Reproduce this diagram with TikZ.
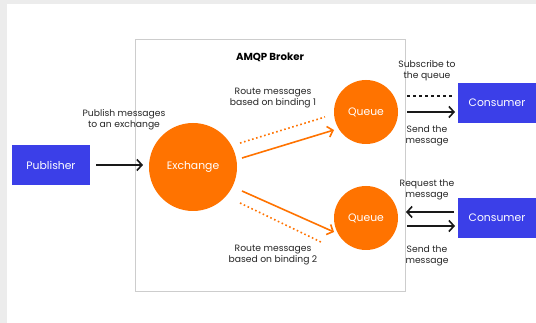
\documentclass[tikz,border=0pt]{standalone}
\usepackage{fontspec}
\setmainfont{Poppins}
\usetikzlibrary{arrows.meta}
\definecolor{amqpblue}{RGB}{59,63,232}
\definecolor{amqporange}{RGB}{255,115,0}
\definecolor{framegrey}{RGB}{205,205,205}
\definecolor{bggrey}{RGB}{236,236,236}
\begin{document}
\begin{tikzpicture}[x=1pt,y=-1pt,
  bluebox/.style={fill=amqpblue,draw=none,minimum width=78pt,minimum height=40pt,inner sep=0pt,text=white,font=\fontsize{10.8}{12}\selectfont},
  orangecirc/.style={circle,fill=amqporange,draw=none,inner sep=0pt,text=white,font=\fontsize{10.8}{12}\selectfont},
  lbl/.style={align=center,inner sep=0pt,font=\fontsize{9.2}{11}\selectfont,text=black!85},
  blackarrow/.style={draw=black!90,line width=1.6pt,-{Straight Barb[length=5pt,width=11pt,line width=1.6pt]}},
  orangearrow/.style={draw=amqporange,line width=1.6pt,-{Straight Barb[length=5pt,width=11pt,line width=1.6pt]}},
  orangedots/.style={draw=amqporange,line width=1.6pt,dash pattern=on 1.6pt off 2.6pt},
  blackdash/.style={draw=black!90,line width=2pt,dash pattern=on 3pt off 3pt}
]
\useasboundingbox (0,0) rectangle (536,323);
\fill[bggrey] (0,0) rectangle (536,323);
\fill[white] (7,4) rectangle (536,323);
% broker frame
\draw[framegrey,line width=0.8pt] (135,39) rectangle (405,291);
\node[font=\fontsize{10.2}{11}\selectfont\bfseries] (title) at (270,57) {AMQP Broker};
% nodes
\node[bluebox] (pub) at (51,165) {Publisher};
\node[orangecirc,minimum size=88pt] (ex) at (193,167) {Exchange};
\node[orangecirc,minimum size=64pt] (q1) at (366,112) {Queue};
\node[orangecirc,minimum size=64pt] (q2) at (366,218) {Queue};
\node[bluebox] (c1) at (497,103) {Consumer};
\node[bluebox] (c2) at (497,218) {Consumer};
% helper coordinates
\coordinate (pa) at (96,165);
\coordinate (pb) at (143,165);
\coordinate (r1a) at (242,158);
\coordinate (r1b) at (334,130);
\coordinate (d1a) at (240,143);
\coordinate (d1b) at (325,117);
\coordinate (r2a) at (242,191);
\coordinate (r2b) at (334,232);
\coordinate (d2a) at (240,203);
\coordinate (d2b) at (323,243);
\coordinate (s1a) at (407,96);
\coordinate (s1b) at (453,96);
\coordinate (m1a) at (407,112);
\coordinate (m1b) at (455,112);
\coordinate (q2a) at (454,212);
\coordinate (q2b) at (406,212);
\coordinate (m2a) at (407,226);
\coordinate (m2b) at (455,226);
% connectors
\draw[blackarrow] (pa) -- (pb);
\draw[orangearrow] (r1a) -- (r1b);
\draw[orangedots] (d1a) -- (d1b);
\draw[orangearrow] (r2a) -- (r2b);
\draw[orangedots] (d2a) -- (d2b);
\draw[blackdash] (s1a) -- (s1b);
\draw[blackarrow] (m1a) -- (m1b);
\draw[blackarrow] (q2a) -- (q2b);
\draw[blackarrow] (m2a) -- (m2b);
% labels
\node[lbl] (lpub) at (124,120) {Publish messages\\to an exchange};
\node[lbl] (lr1) at (273,98) {Route messages\\based on binding 1};
\node[lbl] (lr2) at (273,255) {Route messages\\based on binding 2};
\node[lbl] (lsub) at (427,71) {Subscribe to\\the queue};
\node[lbl] (lsend1) at (427,136) {Send the\\message};
\node[lbl] (lreq) at (427,190) {Request the\\message};
\node[lbl] (lsend2) at (427,256) {Send the\\message};
\end{tikzpicture}
\end{document}
